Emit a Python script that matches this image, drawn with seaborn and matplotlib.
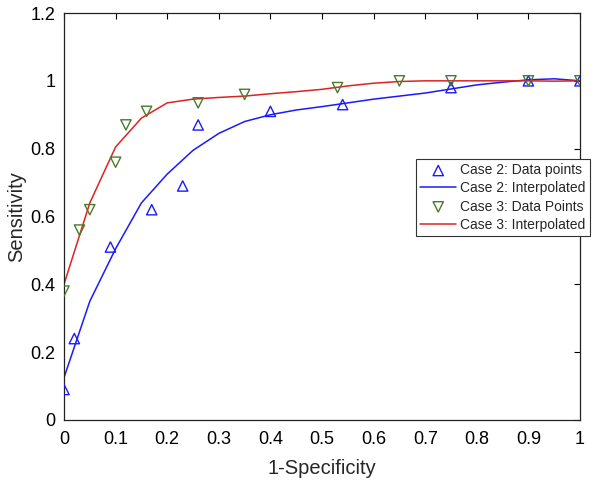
import numpy as np
import pandas as pd
import matplotlib
matplotlib.use("Agg")
import matplotlib.pyplot as plt
import seaborn as sns

# measured points
case2_x = [0.0, 0.02, 0.09, 0.17, 0.23, 0.26, 0.40, 0.54, 0.75, 0.90, 1.0]
case2_y = [0.09, 0.24, 0.51, 0.62, 0.69, 0.87, 0.91, 0.93, 0.98, 1.0, 1.0]
case3_x = [0.0, 0.03, 0.05, 0.10, 0.12, 0.16, 0.26, 0.35, 0.53, 0.65, 0.75, 0.90, 1.0]
case3_y = [0.38, 0.56, 0.62, 0.76, 0.87, 0.91, 0.935, 0.96, 0.98, 1.0, 1.0, 1.0, 1.0]

# interpolated curves
fit_x = [0.0, 0.05, 0.10, 0.15, 0.20, 0.25, 0.30, 0.35, 0.40, 0.45, 0.50,
         0.55, 0.60, 0.65, 0.70, 0.75, 0.80, 0.85, 0.90, 0.95, 1.0]
fit2_y = [0.125, 0.35, 0.505, 0.64, 0.725, 0.795, 0.845, 0.88, 0.90, 0.914, 0.924,
          0.935, 0.946, 0.955, 0.964, 0.976, 0.988, 0.996, 1.003, 1.006, 1.0]
fit3_y = [0.40, 0.64, 0.805, 0.89, 0.935, 0.946, 0.951, 0.955, 0.962, 0.968, 0.975,
          0.985, 0.993, 0.998, 1.0, 1.0, 1.0, 1.0, 1.0, 0.999, 1.0]

sns.set_style("white")
plt.rcParams['font.family'] = ['Liberation Sans', 'DejaVu Sans']

fig = plt.figure(figsize=(6, 4.83), dpi=100)
ax = fig.add_axes([64/600, 1-420/483, (580-64)/600, (420-13)/483])

blue = '#1a1aff'
green = '#4a7a2a'
red = '#dd2222'

sns.scatterplot(x=case2_x, y=case2_y, ax=ax, marker='^', s=55, facecolors='none',
                edgecolor=blue, linewidth=1.0, label='Case 2: Data points', zorder=3)
sns.lineplot(x=fit_x, y=fit2_y, ax=ax, color=blue, linewidth=1.1,
             label='Case 2: Interpolated')
sns.scatterplot(x=case3_x, y=case3_y, ax=ax, marker='v', s=55, facecolors='none',
                edgecolor=green, linewidth=1.0, label='Case 3: Data Points', zorder=3)
sns.lineplot(x=fit_x, y=fit3_y, ax=ax, color=red, linewidth=1.1,
             label='Case 3: Interpolated')

ax.set_xlim(0, 1)
ax.set_ylim(0, 1.2)
ax.set_xticks(np.arange(0, 1.01, 0.1))
ax.set_xticklabels(['0', '0.1', '0.2', '0.3', '0.4', '0.5', '0.6', '0.7', '0.8', '0.9', '1'])
ax.set_yticks(np.arange(0, 1.21, 0.2))
ax.set_yticklabels(['0', '0.2', '0.4', '0.6', '0.8', '1', '1.2'])
ax.tick_params(direction='in', length=4, width=0.8, labelsize=13, colors='black',
               top=True, right=True, pad=6)
ax.tick_params(axis='x', pad=8)
for s in ax.spines.values():
    s.set_color('#222222')
    s.set_linewidth(0.9)
ax.set_xlabel('1-Specificity', fontsize=14.5, labelpad=8)
ax.set_ylabel('Sensitivity', fontsize=14.5)
ax.yaxis.set_label_coords(-0.074, 0.5)

leg = ax.legend(loc='upper right', bbox_to_anchor=(590/600, 1-159/483),
                bbox_transform=fig.transFigure, fontsize=10, frameon=True,
                fancybox=False, edgecolor='#333333', framealpha=1,
                handlelength=2.6, handletextpad=0.3, borderpad=0.3,
                labelspacing=0.3, borderaxespad=0)
leg.get_frame().set_linewidth(0.8)

fig.savefig('out.png', dpi=100)
